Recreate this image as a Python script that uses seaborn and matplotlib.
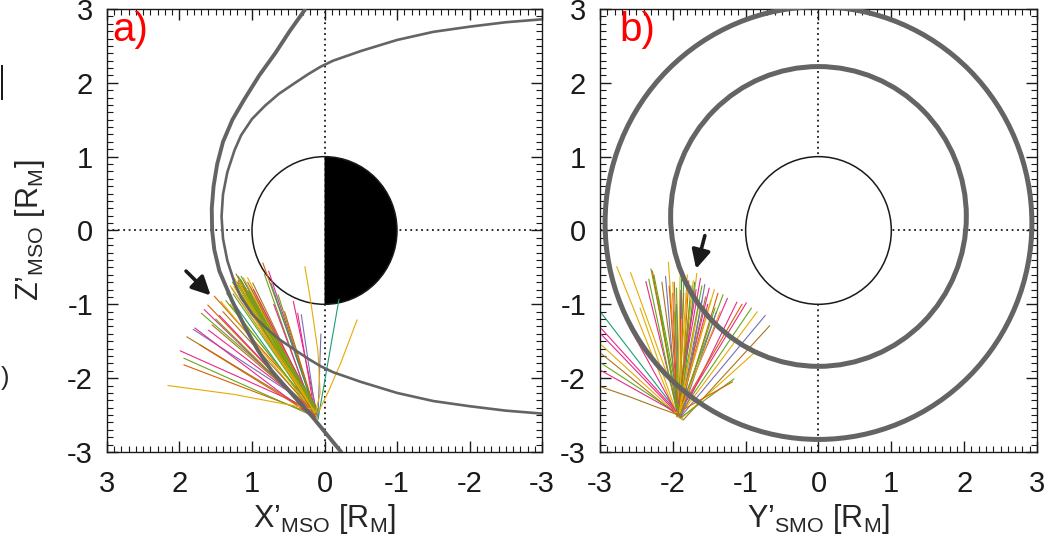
import matplotlib
matplotlib.use("Agg")
import matplotlib.pyplot as plt
import seaborn as sns
import pandas as pd
from matplotlib.patches import Circle, Wedge, Rectangle
from matplotlib.ticker import MultipleLocator

# ---- boundary curves, panel a ----
bs_x = [0.27, 0.48, 0.68, 0.90, 1.11, 1.27, 1.40, 1.48, 1.53, 1.555, 1.55, 1.52,
        1.45, 1.28, 1.10, 0.92, 0.73, 0.50, 0.17, -0.23]
bs_z = [2.99, 2.70, 2.40, 2.10, 1.77, 1.50, 1.20, 0.90, 0.60, 0.30, 0.0, -0.26,
        -0.55, -0.94, -1.30, -1.62, -1.90, -2.16, -2.52, -3.0]
mp_x = [-3.0, -2.5, -2.0, -1.5, -1.0, -0.5, -0.12, 0.05, 0.22, 0.42, 0.63, 0.82,
        1.00, 1.15, 1.24, 1.34, 1.40, 1.42, 1.40, 1.34, 1.24, 1.15, 1.00, 0.82,
        0.63, 0.42, 0.22, 0.05, -0.12, -0.5, -1.0, -1.5, -2.0, -2.5, -3.0]
mp_z = [2.86, 2.82, 2.76, 2.69, 2.58, 2.43, 2.30, 2.22, 2.12, 1.99, 1.85, 1.69,
        1.51, 1.29, 1.09, 0.79, 0.49, 0.19, -0.11, -0.41, -0.71, -0.91, -1.13,
        -1.31, -1.47, -1.61, -1.74, -1.84, -1.92, -2.05, -2.20, -2.31, -2.38,
        -2.44, -2.48]

# ---- boundary cross-sections, panel b ----
ring_center_z = [0.19, 0.10]
ring_radius = [2.03, 2.93]

# ---- trajectories, panel a (root -> end), colour = Dark2 index ----
a_root_x = [0.12, 0.10, 0.14, 0.15, 0.09, 0.13, 0.11, 0.16, 0.12, 0.10, 0.14, 0.13,
            0.15, 0.11, 0.12, 0.09, 0.14, 0.13, 0.10, 0.12, 0.15, 0.11, 0.13, 0.12,
            0.10, 0.14, 0.12, 0.09, 0.09, 0.13, 0.11, 0.15, 0.12, 0.10, 0.14, 0.12,
            0.13, 0.11, 0.15, 0.12, 0.10, 0.14, 0.13, 0.12, 0.11, 0.14, 0.12, 0.13,
            0.10, 0.15, 0.12, 0.14, 0.11, 0.13, 0.12,
            0.12, 0.11, 0.13, 0.14, 0.10, 0.12, 0.13, 0.11, 0.15, 0.12, 0.10, 0.14,
            0.12, 0.13, 0.11, 0.12, 0.14, 0.10, 0.13, 0.12]
a_root_z = [-2.50, -2.46, -2.52, -2.48, -2.44, -2.55, -2.47, -2.50, -2.53, -2.45,
            -2.49, -2.51, -2.46, -2.54, -2.48, -2.43, -2.50, -2.47, -2.52, -2.45,
            -2.49, -2.51, -2.46, -2.48, -2.50, -2.44, -2.47, -2.54, -2.56, -2.52,
            -2.46, -2.50, -2.48, -2.53, -2.45, -2.49, -2.47, -2.51, -2.46, -2.48,
            -2.50, -2.45, -2.52, -2.47, -2.49, -2.51, -2.46, -2.48, -2.50, -2.44,
            -2.47, -2.49, -2.46, -2.48, -2.45,
            -2.44, -2.46, -2.43, -2.45, -2.47, -2.44, -2.42, -2.46, -2.44, -2.45,
            -2.43, -2.47, -2.44, -2.46, -2.42, -2.45, -2.44, -2.43, -2.46, -2.44]
a_end_x = [1.94, 1.99, 1.94, 1.90, 1.81, 1.79, 1.70, 1.66, 1.61, 1.52, 1.43, 1.35,
           1.25, 1.22, 1.19, 1.15, 1.10, 1.06, 0.99, 0.85, 0.83, 0.77, 0.74, 0.64,
           0.43, 0.37, 0.32, 0.05, -0.20, 1.72, 1.60, 1.50, 1.40, 1.30, 1.28, 1.20,
           1.18, 1.12, 1.08, 1.02, 0.95, 0.90, 0.70, 0.55, 1.55, 1.45, 1.36, 1.24,
           1.16, 1.26, 1.14, 1.21, 1.10, 1.05, 1.17,
           1.24, 1.20, 1.17, 1.13, 1.09, 1.05, 1.22, 1.18, 1.14, 1.10, 1.27, 1.02,
           0.98, 1.30, 1.15, 1.12, 1.06, 1.19, 1.25, 1.08]
a_end_z = [-1.82, -1.63, -1.73, -1.44, -1.34, -1.32, -1.12, -1.07, -1.01, -0.89,
           -0.96, -0.85, -0.64, -0.59, -0.68, -0.62, -0.70, -0.64, -0.71, -0.44,
           -0.59, -0.55, -0.71, -0.87, -0.96, -1.12, -1.14, -1.40, -0.93, -1.55,
           -1.35, -1.20, -1.10, -1.00, -0.78, -0.74, -0.82, -0.76, -0.80, -0.85,
           -0.90, -0.95, -1.00, -1.10, -1.28, -1.15, -0.95, -0.72, -0.66, -0.86,
           -0.74, -0.80, -0.77, -0.83, -0.70,
           -0.66, -0.70, -0.73, -0.75, -0.78, -0.82, -0.80, -0.85, -0.88, -0.92,
           -0.70, -0.76, -0.80, -0.75, -0.68, -0.64, -0.70, -0.62, -0.76, -0.86]
a_color = [1, 3, 4, 6, 2, 3, 4, 3, 1, 1, 5, 0,
           5, 6, 3, 4, 2, 5, 6, 1, 4, 3, 0, 4,
           3, 3, 2, 2, 0, 1, 3, 4, 6, 5, 2, 4,
           3, 5, 1, 6, 4, 5, 3, 1, 6, 3, 4, 5,
           2, 4, 5, 6, 3, 4, 5,
           5, 4, 5, 6, 5, 4, 5, 4, 6, 5, 4, 5,
           3, 5, 4, 5, 6, 4, 5, 4]
# a few bent ones
a_bent = [
    [(0.145, -2.42), (0.50, -2.36), (1.25, -2.22), (2.16, -2.10)],
    [(0.12, -2.45), (0.06, -2.20), (0.09, -1.64), (0.19, -0.96), (0.27, -0.49)],
    [(0.08, -2.45), (-0.05, -2.19), (-0.23, -1.78), (-0.45, -1.21)],
]
a_bent_color = [5, 5, 5]

# ---- trajectories, panel b ----
b_root_y = [-1.92, -1.95, -1.90, -1.93, -1.88, -1.96, -1.91, -1.94, -1.89, -1.92,
            -1.95, -1.90, -1.93, -1.87, -1.92, -1.94, -1.91, -1.89, -1.93, -1.90,
            -1.92, -1.95, -1.88, -1.91, -1.93, -1.90, -1.92, -1.94, -1.89, -1.91,
            -1.93, -1.90, -1.92, -1.88, -1.86, -1.89, -1.90, -1.92, -1.94, -1.91,
            -1.93, -1.90, -1.92, -1.89, -1.91, -1.95, -1.96, -1.93, -1.92, -1.90,
            -1.91, -1.89,
            -1.92, -1.90, -1.93, -1.91, -1.89, -1.92, -1.90, -1.94, -1.91, -1.93,
            -1.90, -1.92, -1.89, -1.91, -1.93, -1.90, -1.92, -1.91]
b_root_z = [-2.48, -2.45, -2.52, -2.50, -2.55, -2.46, -2.49, -2.53, -2.47, -2.51,
            -2.44, -2.50, -2.48, -2.56, -2.46, -2.52, -2.49, -2.47, -2.50, -2.45,
            -2.53, -2.48, -2.51, -2.46, -2.50, -2.54, -2.47, -2.49, -2.52, -2.45,
            -2.50, -2.48, -2.53, -2.51, -2.57, -2.55, -2.54, -2.46, -2.49, -2.47,
            -2.51, -2.48, -2.50, -2.46, -2.52, -2.47, -2.45, -2.49, -2.48, -2.50,
            -2.47, -2.52,
            -2.45, -2.47, -2.44, -2.46, -2.48, -2.45, -2.47, -2.44, -2.46, -2.45,
            -2.48, -2.44, -2.46, -2.47, -2.45, -2.46, -2.44, -2.47]
b_end_y = [-2.98, -2.98, -2.98, -2.98, -2.98, -2.98, -2.98, -2.77, -2.58, -2.37,
           -2.33, -2.30, -2.28, -2.26, -2.06, -2.00, -1.95, -1.88, -1.80, -1.75,
           -1.67, -1.62, -1.56, -1.50, -1.43, -1.38, -1.31, -1.25, -1.12, -1.05,
           -0.99, -0.92, -0.84, -0.73, -0.67, -0.84, -1.16, -1.18, -2.10, -2.15,
           -2.05, -1.90, -1.85, -1.70, -1.60, -2.45, -2.60, -2.20, -1.98, -1.78,
           -1.52, -1.40,
           -2.00, -1.95, -1.90, -1.85, -1.80, -1.76, -1.72, -1.68, -1.64, -1.60,
           -1.55, -1.48, -1.42, -1.35, -1.97, -1.88, -1.78, -1.70]
b_end_z = [-1.12, -1.33, -1.41, -1.55, -1.67, -1.80, -1.90, -0.49, -0.57, -0.69,
           -0.66, -0.52, -0.55, -0.60, -0.43, -0.85, -1.00, -0.66, -0.60, -0.75,
           -0.58, -0.65, -0.73, -0.78, -0.80, -0.85, -0.87, -0.92, -0.97, -1.00,
           -0.98, -1.05, -1.10, -1.15, -1.29, -1.62, -2.01, -2.05, -0.62, -0.70,
           -0.75, -0.80, -0.72, -0.70, -0.95, -1.05, -1.30, -0.90, -0.70, -0.68,
           -1.00, -1.10,
           -0.70, -0.78, -0.62, -0.85, -0.70, -0.95, -0.68, -0.80, -1.00, -0.75,
           -0.90, -0.95, -1.05, -1.10, -1.10, -1.20, -1.25, -1.30]
b_color = [0, 3, 3, 5, 6, 4, 3, 5, 5, 3,
           4, 4, 1, 4, 5, 3, 2, 0, 5, 4,
           5, 3, 2, 3, 5, 1, 4, 3, 3, 1,
           3, 4, 5, 2, 6, 5, 4, 1, 2, 6,
           1, 3, 4, 0, 2, 5, 3, 4, 6, 1,
           3, 2,
           5, 4, 5, 6, 5, 4, 5, 3, 5, 4,
           6, 5, 4, 5, 4, 5, 6, 5]
b_bent = [
    [(-1.92, -2.50), (-2.20, -2.40), (-2.60, -2.25), (-2.98, -2.12)],
]
b_bent_color = [6]

ticks = [-3, -2, -1, 0, 1, 2, 3]
GREY = "#646464"
pal = sns.color_palette("Dark2", 8)

sns.set_theme(style="white")
plt.rcParams['font.family'] = ['Liberation Sans', 'DejaVu Sans']
plt.rcParams['mathtext.fontset'] = 'custom'
plt.rcParams['mathtext.rm'] = 'Liberation Sans'
plt.rcParams['mathtext.it'] = 'Liberation Sans:italic'
plt.rcParams['axes.unicode_minus'] = False


def tracks_frame(root_x, root_z, end_x, end_z, color, bent, bent_color):
    rows = []
    colors = {}
    n = 0
    for x0, z0, x1, z1, c in zip(root_x, root_z, end_x, end_z, color):
        rows.append((f"t{n}", 0, x0, z0))
        rows.append((f"t{n}", 1, x1, z1))
        colors[f"t{n}"] = pal[c]
        n += 1
    for pts, c in zip(bent, bent_color):
        for k, (x, z) in enumerate(pts):
            rows.append((f"t{n}", k, x, z))
        colors[f"t{n}"] = pal[c]
        n += 1
    df = pd.DataFrame(rows, columns=["track", "k", "x", "z"])
    return df, colors


def curve(ax, xs, zs, lw):
    df = pd.DataFrame({"x": xs, "z": zs})
    sns.lineplot(data=df, x="x", y="z", sort=False, estimator=None,
                 color=GREY, lw=lw, ax=ax, zorder=5)


def style_axes(ax):
    ax.set_ylim(-3, 3)
    ax.set_xticks(ticks)
    ax.set_yticks(ticks)
    ax.xaxis.set_minor_locator(MultipleLocator(0.1))
    ax.yaxis.set_minor_locator(MultipleLocator(0.1))
    ax.tick_params(which="both", direction="in", top=True, right=True,
                   bottom=True, left=True, colors="k", labelsize=21)
    ax.tick_params(which="major", length=8, width=1)
    ax.tick_params(which="minor", length=4, width=0.8)
    ax.tick_params(axis="x", pad=13)
    ax.tick_params(axis="y", pad=10)
    for s in ax.spines.values():
        s.set_color("k")
        s.set_linewidth(1)
    ax.axhline(0, color="k", ls=(0, (1, 2)), lw=1.3, zorder=1)
    ax.axvline(0, color="k", ls=(0, (1, 2)), lw=1.3, zorder=1)


fig = plt.figure(figsize=(10.5, 5.47), dpi=100)
ax1 = fig.add_axes([0.1019, 0.1737, 0.4143, 0.8099])
ax2 = fig.add_axes([0.5714, 0.1737, 0.4162, 0.8099])

# ---------------- panel a ----------------
style_axes(ax1)
ax1.add_patch(Wedge((0, 0), 1, -90, 90, facecolor="white", edgecolor="none", zorder=3))
ax1.add_patch(Wedge((0, 0), 1, 90, 270, facecolor="black", edgecolor="none", zorder=3))
ax1.add_patch(Circle((0, 0), 1, facecolor="none", edgecolor="k", lw=1.1, zorder=3))

dfa, cola = tracks_frame(a_root_x, a_root_z, a_end_x, a_end_z, a_color,
                         a_bent, a_bent_color)
sns.lineplot(data=dfa, x="x", y="z", hue="track", palette=cola,
             estimator=None, sort=False, legend=False, lw=0.8, ax=ax1, zorder=4)

curve(ax1, bs_x, bs_z, 2.8)
curve(ax1, mp_x, mp_z, 1.9)
ax1.set_xlim(3, -3)

ax1.annotate("", xy=(1.57, -0.88), xytext=(1.91, -0.55),
             arrowprops=dict(arrowstyle="-|>", color="k", lw=2.6,
                             mutation_scale=28, shrinkA=0, shrinkB=0), zorder=6)
ax1.text(0.012, 0.995, "a)", transform=ax1.transAxes, color="red",
         fontsize=29, ha="left", va="top", zorder=7)
ax1.set_xlabel("X’$_{\\mathrm{MSO}}$ [R$_{\\mathrm{M}}$]", fontsize=22)
ax1.set_ylabel("Z’$_{\\mathrm{MSO}}$ [R$_{\\mathrm{M}}$]", fontsize=22)
ax1.xaxis.set_label_coords(0.5, -0.112)
ax1.yaxis.set_label_coords(-0.137, 0.5)

# ---------------- panel b ----------------
style_axes(ax2)
ax2.add_patch(Circle((0, 0), 1, facecolor="white", edgecolor="k", lw=1.1, zorder=3))

dfb, colb = tracks_frame(b_root_y, b_root_z, b_end_y, b_end_z, b_color,
                         b_bent, b_bent_color)
sns.lineplot(data=dfb, x="x", y="z", hue="track", palette=colb,
             estimator=None, sort=False, legend=False, lw=0.8, ax=ax2, zorder=4)

for cz, r in zip(ring_center_z, ring_radius):
    ax2.add_patch(Circle((0, cz), r, facecolor="none", edgecolor=GREY, lw=3.6, zorder=5))
ax2.set_xlim(-3, 3)

ax2.annotate("", xy=(-1.68, -0.52), xytext=(-1.56, -0.07),
             arrowprops=dict(arrowstyle="-|>", color="k", lw=2.6,
                             mutation_scale=28, shrinkA=0, shrinkB=0), zorder=6)
ax2.text(0.045, 0.995, "b)", transform=ax2.transAxes, color="red",
         fontsize=29, ha="left", va="top", zorder=7)
ax2.set_xlabel("Y’$_{\\mathrm{SMO}}$ [R$_{\\mathrm{M}}$]", fontsize=22)
ax2.set_ylabel("")
ax2.xaxis.set_label_coords(0.5, -0.112)

# leftover edge of the neighbouring figure at the left margin
fig.add_artist(Rectangle((1 / 1050, 1 - 100 / 547), 2 / 1050, 35 / 547,
                         facecolor="k", edgecolor="none",
                         transform=fig.transFigure))
fig.text(0.001, 1 - 378 / 547, ")", fontsize=18, ha="left", va="center")

fig.savefig("out.png", dpi=100)
